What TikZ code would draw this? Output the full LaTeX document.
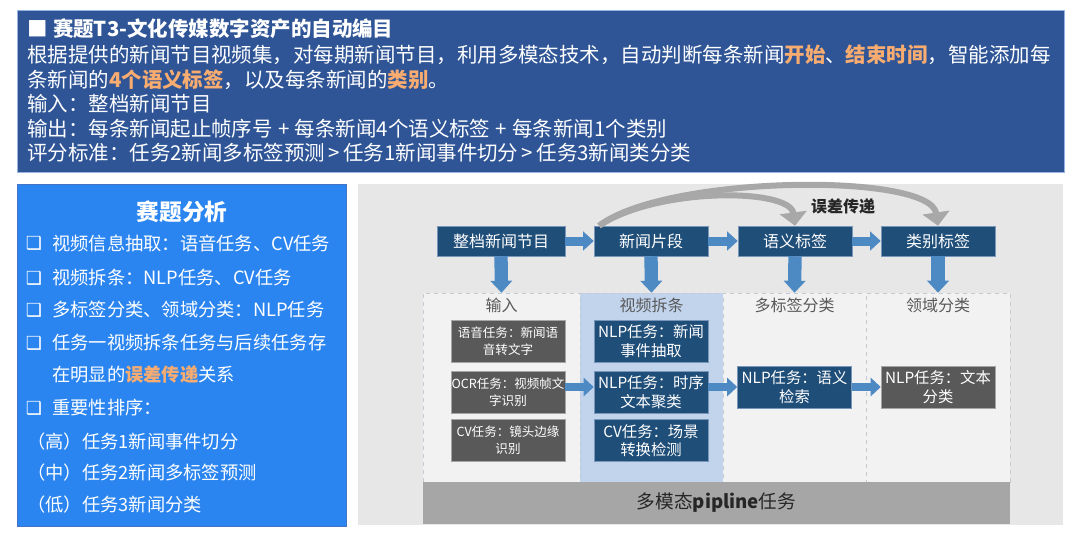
\documentclass[tikz,border=0pt]{standalone}
\usepackage{fontspec}
\setmainfont{Noto Sans CJK SC}
\newfontfamily\symfont{DejaVu Sans}
\usepackage{xcolor}
\usetikzlibrary{arrows.meta}

\definecolor{topblue}{RGB}{47,85,151}
\definecolor{topedge}{RGB}{150,180,225}
\definecolor{leftblue}{RGB}{43,133,240}
\definecolor{leftedge}{RGB}{70,115,195}
\definecolor{panelgray}{RGB}{231,231,231}
\definecolor{colgray}{RGB}{242,242,242}
\definecolor{colblue}{RGB}{194,212,236}
\definecolor{coledge}{RGB}{196,202,212}
\definecolor{navy}{RGB}{31,78,121}
\definecolor{navyedge}{RGB}{120,150,185}
\definecolor{boxgray}{RGB}{89,89,89}
\definecolor{boxgrayedge}{RGB}{165,165,165}
\definecolor{arrowblue}{RGB}{77,138,196}
\definecolor{curvegray}{RGB}{168,168,168}
\definecolor{bargray}{RGB}{166,166,166}
\definecolor{hlorange}{RGB}{248,172,112}
\definecolor{hdrgray}{RGB}{89,89,89}
\definecolor{darktext}{RGB}{38,38,38}

\newcommand{\hl}[1]{\textbf{\textcolor{hlorange}{#1}}}
\newcommand{\sqmark}{{\symfont\fontsize{13.5}{14}\selectfont ❑}}
\newcommand{\plus}{\hspace{4pt}+\hspace{4pt}}

\tikzset{
  toptext/.style={anchor=west, inner sep=0pt, text=white, font=\fontsize{15.35}{18}\selectfont},
  lefttext/.style={anchor=west, inner sep=0pt, text=white, font=\fontsize{13.7}{16}\selectfont},
  stagebox/.style={draw=navyedge, fill=navy, text=white, inner sep=0pt, minimum height=22.5pt, font=\fontsize{12}{14}\selectfont},
  colbox/.style={draw=coledge, dashed, fill=colgray, inner sep=0pt, minimum height=141.75pt},
  colhead/.style={inner sep=0pt, text=hdrgray, font=\fontsize{12}{14}\selectfont},
  inbox/.style={draw=boxgrayedge, fill=boxgray, text=white, inner sep=0pt, align=center, minimum width=85.5pt, minimum height=31.5pt, font=\fontsize{9.4}{12.5}\selectfont},
  taskbox/.style={draw=navyedge, fill=navy, text=white, inner sep=0pt, align=center, minimum width=85.5pt, minimum height=31.5pt, font=\fontsize{11.5}{14}\selectfont},
  bigdown/.style={draw=arrowblue, line width=10pt, -{Triangle[width=16pt,length=9pt]}},
  bigright/.style={draw=arrowblue, line width=6.75pt, -{Triangle[width=14pt,length=8pt]}},
  smallright/.style={draw=arrowblue, line width=6pt, -{Triangle[width=13.5pt,length=7.5pt]}},
  errcurve/.style={draw=curvegray, line width=4.5pt, -{Triangle[width=20pt,length=10pt]}},
}

\begin{document}
\begin{tikzpicture}[x=0.75pt,y=0.75pt,yscale=-1,xscale=1]
        \useasboundingbox (0,0) rectangle (1080,536);
        \fill [white] (0,0) rectangle (1080,536);

        %Shape: Rectangle [top task box]
        \draw [draw=topedge, fill=topblue] (17,10) rectangle (1064,172);
        % Text Node
        \draw (27,29) node [toptext] (title) {\textbf{■\hspace{4pt}赛题T3-文化传媒数字资产的自动编目}};
        \draw (27,55) node [toptext] (desca) {根据提供的新闻节目视频集，对每期新闻节目，利用多模态技术，自动判断每条新闻\hl{开始}、\hl{结束时间}，智能添加每};
        \draw (27,80) node [toptext] (descb) {条新闻的\hl{4个语义标签}，以及每条新闻的\hl{类别}。};
        \draw (27,104) node [toptext] (input) {输入：整档新闻节目};
        \draw (27,129) node [toptext] (output) {输出：每条新闻起止帧序号\plus 每条新闻4个语义标签\plus 每条新闻1个类别};
        \draw (27,153) node [toptext] (score) {评分标准：任务2新闻多标签预测\,>\,任务1新闻事件切分\,>\,任务3新闻类分类};

        %Shape: Rectangle [analysis box]
        \draw [draw=leftedge, fill=leftblue] (17,184) rectangle (346,526);
        % Text Node
        \draw (182,212) node [inner sep=0pt, text=white, font=\fontsize{17}{20}\selectfont] (antitle) {\textbf{赛题分析}};
        \draw (34,243) node [inner sep=0pt, text=white] (bla) {\sqmark};
        \draw (52,243) node [lefttext] (ana) {视频信息抽取：语音任务、CV任务};
        \draw (34,278) node [inner sep=0pt, text=white] (blb) {\sqmark};
        \draw (52,278) node [lefttext] (anb) {视频拆条：NLP任务、CV任务};
        \draw (34,310) node [inner sep=0pt, text=white] (blc) {\sqmark};
        \draw (52,310) node [lefttext] (anc) {多标签分类、领域分类：NLP任务};
        \draw (34,343) node [inner sep=0pt, text=white] (bld) {\sqmark};
        \draw (52,343) node [lefttext] (and) {任务一视频拆条任务与后续任务存};
        \draw (52,375) node [lefttext] (ane) {在明显的\hl{误差传递}关系};
        \draw (34,408) node [inner sep=0pt, text=white] (ble) {\sqmark};
        \draw (52,408) node [lefttext] (anf) {重要性排序：};
        \draw (27,442) node [lefttext] (rkhigh) {（高）任务1新闻事件切分};
        \draw (27,473) node [lefttext] (rkmid) {（中）任务2新闻多标签预测};
        \draw (27,505) node [lefttext] (rklow) {（低）任务3新闻分类};

        %Shape: Rectangle [pipeline panel]
        \fill [panelgray] (358,184) rectangle (1063,525);

        % stage columns
        \draw (501.5,387.5) node [colbox, minimum width=117.75pt] (colin) {};
        \draw (651.5,387.5) node [colbox, fill=colblue, minimum width=107.25pt] (colsplit) {};
        \draw (794.5,387.5) node [colbox, minimum width=107.25pt] (colmulti) {};
        \draw (938,387.5) node [colbox, minimum width=108pt] (coldomain) {};
        \draw (501.5,305) node [colhead] (hin) {输入};
        \draw (651.5,305) node [colhead] (hsplit) {视频拆条};
        \draw (794.5,305) node [colhead] (hmulti) {多标签分类};
        \draw (938,305) node [colhead] (hdomain) {领域分类};

        % top stages
        \draw (501,241) node [stagebox, minimum width=96pt] (prog) {整档新闻节目};
        \draw (651,241) node [stagebox, minimum width=85.5pt] (seg) {新闻片段};
        \draw (795,241) node [stagebox, minimum width=85.5pt] (sem) {语义标签};
        \draw (938,241) node [stagebox, minimum width=85.5pt] (cls) {类别标签};

        % input tasks
        \draw (508,341) node [inbox] (asr) {语音任务：新闻语\\音转文字};
        \draw (508,392) node [inbox] (ocr) {OCR任务：视频帧文\\字识别};
        \draw (508,440.5) node [inbox] (shot) {CV任务：镜头边缘\\识别};
        % split tasks
        \draw (651,341) node [taskbox] (event) {NLP任务：新闻\\事件抽取};
        \draw (651,392) node [taskbox] (cluster) {NLP任务：时序\\文本聚类};
        \draw (651,440.5) node [taskbox] (scene) {CV任务：场景\\转换检测};
        \draw (794.5,387) node [taskbox] (retrieve) {NLP任务：语义\\检索};
        \draw (938,387) node [taskbox, draw=boxgrayedge, fill=boxgray] (textcls) {NLP任务：文本\\分类};

        %Shape: Rectangle [pipeline bar]
        \draw (716.5,503) node [fill=bargray, inner sep=0pt, minimum width=440.25pt, minimum height=31.5pt, text=darktext, font=\fontsize{14}{16}\selectfont] (bar) {多模态\textbf{pipline}任务};

        % arrows
        \draw [bigright] (prog) -- (seg);
        \draw [bigright] (seg) -- (sem);
        \draw [bigright] (sem) -- (cls);
        \draw [bigdown] (prog.south) -- (colin.north);
        \draw [bigdown] (seg.south) -- (colsplit.north);
        \draw [bigdown] (sem.south) -- (colmulti.north);
        \draw [bigdown] (cls.south) -- (coldomain.north);
        \draw [smallright] (ocr.east |- retrieve.west) -- (cluster.west |- retrieve.west);
        \draw [smallright] (cluster.east |- retrieve.west) -- (retrieve.west);
        \draw [smallright] (retrieve) -- (textcls);

        % error propagation
        \draw [errcurve] ([xshift=4pt]seg.north west) .. controls (657,187) and (790,188) .. (sem.north);
        \draw [errcurve] ([xshift=4pt]seg.north west) .. controls (665,175) and (930,172) .. (cls.north);
        \draw (843,206) node [inner sep=0pt, text=darktext, font=\fontsize{12}{14}\selectfont] (errlabel) {\textbf{误差传递}};

\end{tikzpicture}
\end{document}
